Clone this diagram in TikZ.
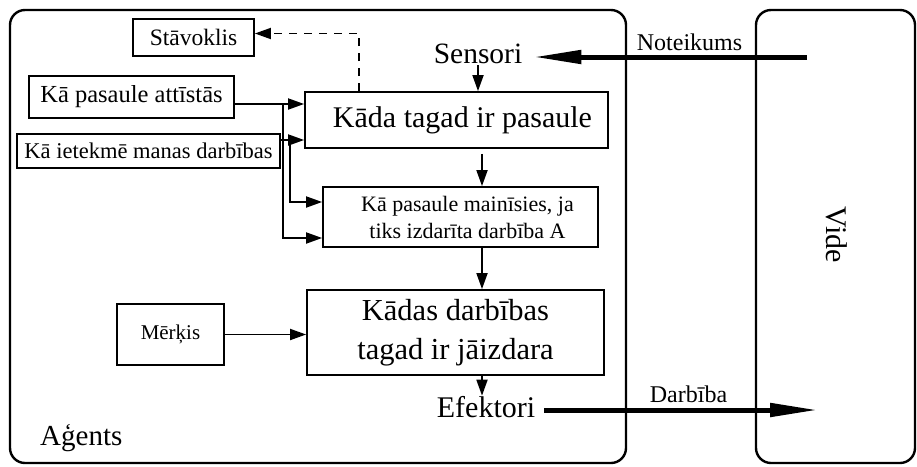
\documentclass[tikz,border=0pt]{standalone}
\usepackage{fontspec}
\setmainfont{Liberation Serif}
\usetikzlibrary{arrows.meta,calc}
\newcommand\setfs[2]{\fontsize{#1}{#2}\selectfont}

\begin{document}
\begin{tikzpicture}[x=1pt,y=-1pt,
  box/.style={draw,line width=1.8pt,inner sep=0pt,align=center},
  frame/.style={draw,line width=2.4pt,rounded corners=15pt,inner sep=0pt},
  arr/.style={line width=1.8pt,-{Triangle[length=16pt,width=11pt]}},
  bigarr/.style={line width=5pt,-{Triangle[length=48pt,width=13pt]}},
  lbl/.style={inner sep=0pt},
]
\useasboundingbox (0,0) rectangle (917,466);

% agent and environment frames
\node[frame,minimum width=616pt,minimum height=453pt] (agent) at (318,236.5) {};
\node[frame,minimum width=159pt,minimum height=453pt] (env) at (835.5,236.5) {};
\node[lbl,rotate=-90,font=\setfs{30}{36}] (vide) at (837,235) {Vide};

% boxes inside the agent
\node[box,minimum width=121pt,minimum height=37pt,font=\setfs{23.5}{28}] (stav) at (193.5,37.5) {Stāvoklis};
\node[box,minimum width=205pt,minimum height=42pt,font=\setfs{24.5}{29}] (attist) at (131.5,97) {Kā pasaule attīstās};
\node[box,minimum width=263pt,minimum height=34pt,font=\setfs{22.5}{27}] (ietek) at (148.5,151) {Kā ietekmē manas darbības};
\node[box,minimum width=303pt,minimum height=56pt,font=\setfs{30}{35}] (kada) at (456.5,120) {\hspace*{12pt}Kāda tagad ir pasaule};
\node[box,minimum width=275pt,minimum height=60pt,font=\setfs{22}{27}] (main) at (460.5,217) {\hspace*{14pt}Kā pasaule mainīsies, ja\\\hspace*{14pt}tiks izdarīta darbība A};
\node[box,minimum width=297pt,minimum height=85pt,font=\setfs{30.5}{39}] (darb) at (455.5,332.5) {Kādas darbības\\tagad ir jāizdara};
\node[box,minimum width=107pt,minimum height=61pt,font=\setfs{21}{25}] (merk) at (170.5,334.5) {Mērķis};

% plain labels
\node[lbl,anchor=base,font=\setfs{29.5}{35}] (sensori) at (478,63) {Sensori};
\node[lbl,anchor=base,font=\setfs{30}{36}] (efekt) at (486,417) {Efektori};
\node[lbl,anchor=base west,font=\setfs{29}{35}] (agents) at (40,445) {Aģents};
\node[lbl,anchor=base,font=\setfs{24}{29}] (noteik) at (689.5,50) {Noteikums};
\node[lbl,anchor=base,font=\setfs{24}{29}] (darbiba) at (688.5,402) {Darbība};

% helper points
\coordinate (nrule) at (807,57);
\coordinate (dtip) at (818,410);
\coordinate (cx) at (482,0);
\coordinate (b1) at (283,0);
\coordinate (b2) at (290,0);
\coordinate (p1) at ([yshift=-7pt]attist.east);
\coordinate (p2) at ([yshift=11pt]ietek.east);

% percept and action
\draw[bigarr,shorten >=11pt] (nrule) -- (nrule -| sensori.east);
\draw[bigarr,shorten <=9pt] (efekt.east |- dtip) -- (dtip);

% main flow
\draw[arr,shorten <=2pt] (sensori.south) -- (sensori.south |- kada.north);
\draw[arr,shorten <=5pt] (kada.south -| cx) -- (main.north -| cx);
\draw[arr] (main.south -| cx) -- (darb.north -| cx);
\draw[arr] (darb.south -| cx) -- (efekt.north -| cx);

% knowledge inputs
\draw[arr] (p1) -- (p1 -| kada.west);
\draw[arr] (p2) -- (p2 -| kada.west);
\draw[arr] (p1 -| b1) |- ([yshift=-21pt]main.west);
\draw[arr] (p2 -| b2) |- ([yshift=15pt]main.west);
\draw[arr] (merk.east) -- (merk.east -| darb.west);

% state feedback
\draw[arr,dash pattern=on 8pt off 7pt] ($(kada.north west)+(55,0)$) |- ([yshift=4pt]stav.east);
\end{tikzpicture}
\end{document}
